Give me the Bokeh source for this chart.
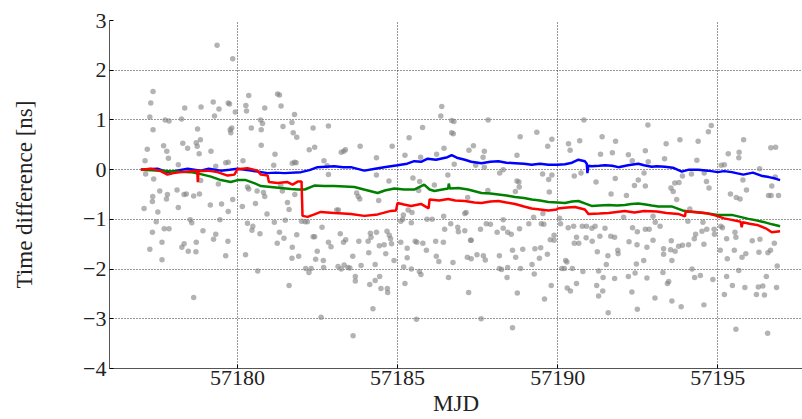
from bokeh.plotting import figure
from bokeh.models import Range1d, FixedTicker
from bokeh.embed import file_html
from bokeh.resources import INLINE

# ---------------- data ----------------
x_ticks = [57180, 57185, 57190, 57195]
y_ticks = [-4, -3, -2, -1, 0, 1, 2, 3]
y_tick_labels = {-4: "\u22124", -3: "\u22123", -2: "\u22122", -1: "\u22121",
                 0: "0", 1: "1", 2: "2", 3: "3"}
x_tick_labels = {57180: "57180", 57185: "57185", 57190: "57190", 57195: "57195"}

scatter_mjd = [
    57179.36, 57179.85, 57177.36, 57177.29, 57177.26, 57177.36, 57177.18, 57177.11, 57177.13, 57177.38,
    57177.35, 57177.34, 57177.08, 57177.51, 57177.46, 57177.34, 57177.71, 57177.86, 57177.64, 57177.26,
    57177.64, 57177.74, 57177.86, 57177.69, 57177.79, 57177.84, 57177.57, 57177.81, 57177.78, 57178.15,
    57178.11, 57178.15, 57178.33, 57178.40, 57178.63, 57178.29, 57178.44, 57178.35, 57178.25, 57178.86,
    57179.24, 57179.42, 57179.28, 57179.71, 57179.75, 57179.93, 57178.75, 57178.84, 57178.71, 57178.74,
    57178.80, 57179.17, 57179.77, 57179.82, 57179.79, 57178.52, 57178.57, 57178.92, 57178.33, 57178.26,
    57178.46, 57178.71, 57178.70, 57178.81, 57178.85, 57179.15, 57179.50, 57179.85, 57179.71, 57179.45,
    57179.32, 57179.25, 57179.70, 57179.63, 57178.63, 57179.63, 57179.71, 57179.32, 57179.40, 57180.17,
    57180.15, 57180.31, 57180.35, 57180.35, 57180.26, 57180.28, 57180.43, 57180.31, 57180.48, 57180.45,
    57180.70, 57180.25, 57180.63, 57180.56, 57180.61, 57180.74, 57180.72, 57180.78, 57180.74, 57180.85,
    57180.85, 57180.81, 57180.92, 57181.15, 57181.31, 57181.24, 57181.45, 57181.17, 57181.13, 57181.25,
    57181.31, 57181.36, 57181.42, 57181.49, 57181.56, 57181.61, 57181.70, 57181.74, 57181.85, 57181.78,
    57181.71, 57181.78, 57181.83, 57181.79, 57181.85, 57181.71, 57181.70, 57181.91, 57181.61, 57181.35,
    57181.40,
    57182.36, 57182.84, 57182.24, 57182.41, 57183.24, 57183.32, 57183.37, 57183.83, 57182.70, 57182.80,
    57182.84, 57184.34, 57184.34, 57184.83, 57184.73, 57184.41, 57183.72, 57183.77, 57183.82, 57183.10,
    57183.15, 57182.00, 57182.11, 57182.18, 57182.64, 57182.36, 57182.41, 57183.21, 57183.38, 57183.31,
    57182.84, 57182.92, 57183.79, 57184.15, 57184.34, 57184.08, 57184.17, 57184.67, 57184.74, 57184.78,
    57184.81, 57184.43, 57184.58, 57184.10, 57184.63, 57184.89, 57182.49, 57182.44, 57182.68, 57182.13,
    57182.30, 57182.23, 57182.69, 57183.14, 57183.24, 57183.33, 57183.45, 57183.51, 57183.60, 57183.86,
    57183.68, 57183.68, 57184.30, 57184.44, 57184.13, 57184.30, 57184.48, 57184.68, 57184.69, 57184.23,
    57182.61, 57183.61, 57185.59, 57185.10, 57185.16, 57185.18, 57185.43, 57185.33, 57185.45, 57185.10,
    57185.30, 57185.30, 57185.19, 57185.43, 57185.23, 57185.55, 57185.60, 57185.79, 57185.90, 57185.68,
    57185.73, 57185.92, 57186.08, 57186.19, 57186.43, 57186.21, 57186.29, 57186.47, 57186.66, 57186.88,
    57186.90, 57187.10, 57187.28, 57187.18, 57186.73, 57186.59, 57187.22, 57185.23, 57185.36, 57185.78,
    57185.72, 57185.48, 57185.69, 57185.66, 57186.15, 57186.22, 57186.38, 57186.35, 57186.69, 57186.69,
    57186.74, 57186.45, 57186.77, 57186.57, 57187.23, 57187.19, 57186.44, 57186.76,
    57187.83, 57190.82, 57187.37, 57187.71, 57187.67, 57187.44, 57187.71, 57188.83, 57189.35, 57189.82,
    57189.69, 57190.34, 57190.39, 57190.69, 57191.39, 57191.81, 57191.71, 57191.34, 57192.21, 57192.33,
    57188.73, 57188.30, 57188.19, 57188.73, 57188.79, 57188.80, 57188.68, 57187.82, 57189.53, 57189.82,
    57189.72, 57189.74, 57190.52, 57190.73, 57191.20, 57191.80, 57191.67, 57192.15, 57187.14, 57187.10,
    57188.30, 57187.77, 57187.90, 57187.59, 57188.11, 57188.30, 57188.44, 57188.55, 57188.81, 57189.10,
    57189.49, 57189.57, 57189.25, 57189.54, 57190.09, 57190.06, 57190.33, 57190.50, 57190.77, 57190.90,
    57191.07, 57191.17, 57191.48, 57191.66, 57191.78, 57191.32, 57191.08, 57190.89, 57190.59, 57190.52,
    57190.66, 57189.89, 57189.77, 57189.89, 57187.30, 57188.18, 57188.69, 57188.59, 57188.91, 57189.29,
    57189.47, 57189.43, 57189.68, 57187.30, 57187.48, 57187.68, 57187.74, 57188.18, 57188.25, 57188.44,
    57188.84, 57189.20, 57189.27, 57188.42, 57188.74, 57189.80, 57189.59, 57190.13, 57190.21, 57190.46,
    57190.25, 57190.29, 57190.79, 57190.59, 57190.30, 57190.40, 57191.24, 57191.28, 57191.52, 57191.57,
    57191.42, 57191.88, 57191.89, 57191.78, 57191.22, 57191.41, 57191.28, 57191.58, 57192.21, 57192.23,
    57192.06, 57187.61, 57188.59,
    57192.82, 57194.80, 57194.71, 57193.82, 57194.39, 57193.39, 57192.74, 57193.34, 57194.35, 57192.83,
    57195.81, 57195.33, 57195.67, 57195.66, 57195.21, 57195.11, 57196.66, 57196.81, 57196.31, 57192.70,
    57192.52, 57192.40, 57192.74, 57193.90, 57194.18, 57194.58, 57194.65, 57194.73, 57193.66, 57193.79,
    57193.54, 57193.61, 57193.72, 57195.40, 57195.58, 57195.70, 57195.79, 57195.90, 57196.69, 57196.80,
    57196.59, 57196.67, 57196.90, 57192.98, 57193.20, 57193.05, 57192.74, 57192.86, 57192.34, 57192.49,
    57194.07, 57194.13, 57194.54, 57194.51, 57194.66, 57194.89, 57194.90, 57194.31, 57194.27, 57194.57,
    57194.09, 57193.90, 57193.78, 57193.67, 57193.55, 57193.53, 57193.31, 57193.31, 57193.57, 57192.98,
    57192.79, 57192.48, 57192.69, 57192.46, 57192.42, 57192.79, 57192.32, 57195.10, 57195.15, 57195.54,
    57195.57, 57195.28, 57195.08, 57195.52, 57195.30, 57195.76, 57195.88, 57196.08, 57196.32, 57196.29,
    57196.57, 57196.65, 57196.77, 57196.86, 57195.66, 57195.28, 57195.46, 57195.85, 57196.21, 57196.27,
    57196.41, 57196.46, 57196.52, 57196.84, 57195.21, 57194.20, 57194.28, 57194.46, 57194.85, 57193.29,
    57193.43, 57193.47, 57193.04, 57193.57, 57193.86, 57194.57, 57192.49, 57195.57, 57196.56,
]
scatter_dt = [
    2.50, 2.23, 1.57, 1.34, 1.06, 0.80, 0.41, 0.18, -0.09, -0.19,
    -0.54, -0.64, -0.78, -0.85, -1.05, -1.26, -1.19, -1.19, -1.46, -1.60,
    -1.81, 1.00, 0.98, 0.48, 0.37, 0.23, -0.43, -0.50, -0.59, 0.10,
    -0.41, -0.76, -0.50, -0.49, -0.53, 0.53, 0.43, 1.24, 1.02, 1.26,
    1.36, 1.22, 1.08, 1.34, 1.32, 1.16, 0.82, 0.60, 0.54, 0.47,
    0.32, 0.37, 0.80, 0.84, 0.74, -1.01, -1.07, -1.23, -1.49, -1.56,
    -1.64, -1.46, -1.65, -0.49, -0.22, -0.71, -0.69, -0.60, -0.84, -1.01,
    -1.30, -1.40, -1.44, -1.73, -2.57, 0.14, 0.15, 0.07, -0.29, 0.18,
    -0.74, -0.35, -0.39, 1.49, 1.29, 1.18, 0.84, -1.08, -1.14, -1.22,
    -1.29, -1.71, -2.04, -0.68, -0.43, 0.49, 1.00, 0.93, 0.80, 1.24,
    -0.54, -0.46, -0.89, -1.06, -1.26, -1.48, -1.38, 0.31, 0.09, 1.52,
    1.50, 1.28, 0.87, -1.02, -0.66, -0.80, 0.95, 0.74, 0.65, 1.11,
    0.13, 0.15, 0.14, -0.50, -1.31, -1.56, -1.78, -1.74, -2.33, -0.32,
    -0.43,
    0.84, 0.88, 0.40, 0.45, 0.35, 0.37, 0.40, 0.47, 0.18, 0.08,
    -0.10, 0.24, -0.11, 0.47, -0.23, -0.62, -0.47, -0.54, -0.59, -0.81,
    -0.81, -1.04, -1.05, -1.05, -1.16, -1.35, -1.35, -1.29, -1.41, -1.46,
    -1.46, -1.55, -1.44, -1.28, -1.26, -1.44, -1.36, -1.24, -1.32, -1.39,
    -1.49, -1.53, -1.51, -1.67, -1.69, -1.83, -1.64, -1.80, -1.83, -1.99,
    -1.99, -2.07, -1.97, -1.95, -2.00, -1.92, -1.97, -1.98, -1.74, -1.93,
    -2.15, -2.24, -1.91, -2.15, -2.31, -2.23, -2.39, -2.39, -2.47, -2.80,
    -2.97, -3.34, -3.01, -1.04, -1.00, -0.91, -1.07, -0.81, -0.86, -1.46,
    -1.58, -1.77, -1.96, -2.00, -2.29, -1.44, -1.46, -1.48, -1.62, -2.05,
    -2.11, -1.00, -1.00, -1.44, -1.46, -1.74, -1.85, -1.20, -1.09, -1.16,
    -1.25, -1.23, -1.42, -1.76, -1.87, -2.17, -2.47, 0.29, 0.64, 0.85,
    0.25, -0.17, -0.24, -0.42, -0.31, 0.31, 1.27, 1.08, 0.99, 0.74,
    0.72, 0.43, 0.11, -0.11, 0.39, -0.56, -0.94, 0.97,
    1.00, 1.00, 0.48, 0.37, 0.25, 0.09, 0.05, 0.66, 0.75, 0.61,
    0.47, 0.52, 0.39, 0.58, 0.66, 0.57, 0.34, 0.31, 0.30, 0.18,
    0.29, 0.00, -0.07, -0.23, -0.25, -0.35, -0.44, -0.42, -0.09, -0.11,
    -0.20, -0.45, -0.13, -0.07, -0.25, -0.18, -0.49, -0.52, -0.86, -0.88,
    -1.01, -1.09, -1.10, -1.20, -1.26, -1.18, -1.26, -1.30, -1.19, -1.09,
    -1.09, -1.10, -0.96, -0.88, -1.09, -0.98, -1.17, -1.14, -1.14, -1.14,
    -1.18, -1.14, -1.18, -1.34, -1.36, -1.34, -1.44, -1.37, -1.36, -1.48,
    -1.48, -1.32, -1.41, -1.42, -1.42, -1.73, -1.76, -1.62, -1.60, -1.59,
    -1.57, -1.78, -1.70, -1.79, -1.71, -1.73, -1.82, -1.99, -2.01, -1.97,
    -1.99, -1.91, -2.10, -2.17, -2.48, -2.33, -2.60, -1.99, -1.99, -1.99,
    -1.83, -1.86, -2.05, -2.29, -2.38, -2.44, -1.65, -2.04, -1.91, -1.73,
    -2.17, -1.62, -1.69, -2.19, -2.33, -2.44, -2.54, -2.88, -2.15, -1.45,
    -0.96, -3.00, -3.18,
    0.90, 0.89, 0.76, 0.60, 0.57, 0.52, 0.38, 0.22, 0.19, 0.16,
    0.60, 0.32, 0.35, 0.24, 0.10, 0.09, 0.44, 0.45, 0.02, -0.07,
    -0.21, -0.32, -0.33, -0.13, -0.09, -0.07, -0.24, -0.37, -0.27, -0.26,
    -0.37, -0.44, -0.60, -0.49, -0.56, -0.59, -0.21, -0.41, -0.33, -0.15,
    -0.52, -0.52, -0.52, -0.94, -1.14, -1.06, -1.20, -1.20, -1.17, -1.25,
    -1.04, -0.79, -1.06, -1.24, -1.20, -1.20, -1.30, -1.30, -1.39, -1.50,
    -1.51, -1.52, -1.54, -1.64, -1.43, -1.61, -1.59, -1.70, -1.83, -1.42,
    -1.56, -1.51, -1.83, -1.90, -2.08, -2.18, -2.46, -1.14, -1.17, -1.26,
    -1.36, -1.39, -1.62, -1.62, -1.79, -1.76, -1.69, -1.43, -1.40, -1.66,
    -1.67, -1.62, -1.48, -1.94, -2.03, -2.15, -2.33, -2.37, -2.51, -2.36,
    -2.34, -2.52, -2.15, -2.37, -2.51, -2.00, -2.17, -2.13, -2.21, -2.07,
    -2.29, -2.25, -2.58, -2.64, -2.76, -2.72, -2.81, -3.21, -3.29,
]

blue_mjd = [57176.98, 57177.2, 57177.5, 57177.8, 57178.1, 57178.44, 57178.85, 57179.1, 57179.48, 57179.75,
            57180.0, 57180.42, 57180.94, 57181.2, 57181.46, 57181.98, 57182.25, 57182.5, 57183.02, 57183.3,
            57183.54, 57183.96, 57184.3, 57184.58, 57185.0, 57185.3, 57185.52, 57185.75, 57185.94, 57186.2,
            57186.56, 57186.69, 57186.85, 57187.1, 57187.3, 57187.62, 57187.9, 57188.15, 57188.4, 57188.67,
            57188.95, 57189.19, 57189.45, 57189.71, 57190.0, 57190.23, 57190.45, 57190.65, 57190.85, 57190.91,
            57190.93, 57190.96, 57191.06, 57191.3, 57191.48, 57191.7, 57191.9, 57192.2, 57192.52, 57192.7,
            57192.94, 57193.1, 57193.35, 57193.6, 57193.88, 57194.1, 57194.4, 57194.7, 57195.0, 57195.2,
            57195.44, 57195.8, 57196.1, 57196.4, 57196.6, 57196.8, 57196.95]
blue_dt = [0.00, 0.01, 0.02, -0.05, -0.02, 0.02, -0.02, 0.02, -0.02, 0.00,
           0.02, -0.02, -0.07, -0.06, -0.07, -0.05, -0.01, 0.05, 0.07, 0.05,
           0.05, -0.02, 0.02, 0.05, 0.09, 0.12, 0.17, 0.16, 0.22, 0.20,
           0.25, 0.29, 0.24, 0.20, 0.16, 0.13, 0.16, 0.17, 0.14, 0.13,
           0.12, 0.10, 0.12, 0.10, 0.10, 0.11, 0.14, 0.20, 0.17, 0.12,
           -0.07, 0.08, 0.07, 0.08, 0.09, 0.08, 0.05, 0.09, 0.12, 0.09,
           0.06, 0.07, 0.06, 0.04, -0.04, 0.00, 0.00, -0.02, -0.05, -0.03,
           -0.05, -0.10, -0.06, -0.13, -0.15, -0.18, -0.21]

green_mjd = [57176.98, 57177.3, 57177.6, 57177.9, 57178.2, 57178.54, 57178.85, 57179.17, 57179.48, 57179.79,
             57180.0, 57180.26, 57180.52, 57180.73, 57181.04, 57181.35, 57181.67, 57181.88, 57182.1, 57182.4,
             57182.7, 57183.02, 57183.35, 57183.65, 57183.95, 57184.38, 57184.6, 57184.9, 57185.2, 57185.52,
             57185.83, 57186.0, 57186.15, 57186.4, 57186.58, 57186.6, 57186.63, 57186.9, 57187.2, 57187.62,
             57187.9, 57188.15, 57188.4, 57188.67, 57188.95, 57189.19, 57189.45, 57189.71, 57190.0, 57190.23,
             57190.45, 57190.65, 57190.85, 57191.06, 57191.3, 57191.6, 57191.85, 57192.1, 57192.3, 57192.52,
             57192.75, 57192.94, 57193.15, 57193.56, 57193.9, 57194.1, 57194.4, 57194.7, 57195.0, 57195.2,
             57195.44, 57195.7, 57195.96, 57196.2, 57196.48, 57196.7, 57196.95]
green_dt = [0.00, -0.01, -0.02, -0.03, -0.04, -0.05, -0.09, -0.14, -0.21, -0.25,
            -0.21, -0.21, -0.27, -0.33, -0.35, -0.37, -0.39, -0.40, -0.40, -0.32,
            -0.33, -0.33, -0.34, -0.35, -0.40, -0.47, -0.42, -0.38, -0.40, -0.40,
            -0.30, -0.40, -0.43, -0.40, -0.38, -0.28, -0.38, -0.37, -0.40, -0.47,
            -0.48, -0.50, -0.52, -0.55, -0.57, -0.60, -0.62, -0.65, -0.66, -0.67,
            -0.64, -0.63, -0.68, -0.73, -0.72, -0.71, -0.72, -0.71, -0.69, -0.68,
            -0.70, -0.72, -0.74, -0.74, -0.82, -0.84, -0.86, -0.88, -0.91, -0.91,
            -0.91, -0.95, -0.99, -1.02, -1.06, -1.10, -1.14]

red_mjd = [57176.98, 57177.29, 57177.6, 57177.81, 57178.0, 57178.23, 57178.54, 57178.74, 57178.76, 57178.78,
           57179.06, 57179.375, 57179.69, 57179.9, 57180.0, 57180.31, 57180.62, 57180.73, 57180.94, 57180.98,
           57181.25, 57181.56, 57181.72, 57181.88, 57182.0, 57182.03, 57182.19, 57182.4, 57182.6, 57183.02,
           57183.3, 57183.54, 57183.96, 57184.38, 57184.79, 57184.95, 57185.0, 57185.2, 57185.42, 57185.73,
           57185.97, 57186.0, 57186.3, 57186.58, 57186.8, 57187.1, 57187.4, 57187.62, 57187.9, 57188.15,
           57188.4, 57188.67, 57188.95, 57189.19, 57189.45, 57189.71, 57189.98, 57190.0, 57190.3, 57190.54,
           57190.85, 57190.96, 57191.3, 57191.6, 57191.85, 57192.1, 57192.4, 57192.7, 57193.1, 57193.4,
           57193.77, 57193.98, 57194.0, 57194.3, 57194.6, 57194.92, 57195.2, 57195.44, 57195.72, 57195.75,
           57195.78, 57196.0, 57196.27, 57196.5, 57196.69, 57196.95]
red_dt = [0.00, 0.02, -0.03, -0.10, -0.07, -0.05, -0.03, -0.02, -0.25, -0.03,
          -0.02, -0.05, -0.12, -0.10, 0.01, 0.03, -0.02, -0.10, -0.12, -0.25,
          -0.27, -0.25, -0.30, -0.24, -0.24, -0.93, -0.95, -0.90, -0.85, -0.87,
          -0.88, -0.89, -0.93, -0.90, -0.83, -0.82, -0.67, -0.70, -0.73, -0.69,
          -0.78, -0.60, -0.62, -0.59, -0.62, -0.63, -0.66, -0.67, -0.64, -0.63,
          -0.66, -0.69, -0.74, -0.78, -0.80, -0.82, -0.80, -0.78, -0.76, -0.75,
          -0.80, -0.89, -0.88, -0.87, -0.85, -0.83, -0.86, -0.83, -0.84, -0.87,
          -0.89, -0.94, -0.84, -0.85, -0.87, -0.92, -0.98, -1.01, -1.05, -1.16,
          -1.06, -1.09, -1.12, -1.18, -1.26, -1.24]

x_label = "MJD"
y_label = "Time difference [ns]"

# ---------------- figure ----------------
FONT = "'Liberation Serif', 'Times New Roman', serif"

p = figure(width=802, height=419, output_backend="svg", toolbar_location=None,
           x_range=Range1d(57176.0, 57197.65), y_range=Range1d(-4, 3),
           min_border_left=109, min_border_right=0, min_border_top=20, min_border_bottom=51)
p.outline_line_color = None
p.background_fill_color = "white"
p.border_fill_color = "white"

n = min(len(scatter_mjd), len(scatter_dt))
p.scatter(scatter_mjd[:n], scatter_dt[:n], size=5.5, fill_color="#808080", fill_alpha=0.6,
          line_color=None)

p.line(blue_mjd, blue_dt, line_color="#0000ff", line_width=2.5)
p.line(green_mjd, green_dt, line_color="#008000", line_width=2.5)
p.line(red_mjd, red_dt, line_color="#ff0000", line_width=2.5)

p.xaxis.ticker = FixedTicker(ticks=x_ticks)
p.yaxis.ticker = FixedTicker(ticks=y_ticks)
p.xaxis.major_label_overrides = x_tick_labels
p.yaxis.major_label_overrides = y_tick_labels
p.xgrid.ticker = FixedTicker(ticks=x_ticks)
p.ygrid.ticker = FixedTicker(ticks=y_ticks)

for g in (p.xgrid, p.ygrid):
    g.grid_line_color = "black"
    g.grid_line_alpha = 0.8
    g.grid_line_dash = "1 2"
    g.grid_line_width = 1

for ax in (p.xaxis, p.yaxis):
    ax.axis_line_color = "#555555"
    ax.axis_line_width = 1
    ax.major_tick_in = 4
    ax.major_tick_out = 0
    ax.major_tick_line_color = "black"
    ax.minor_tick_line_color = None
    ax.major_label_text_font = FONT
    ax.major_label_text_font_size = "22px"
    ax.major_label_text_color = "#222222"
    ax.axis_label_text_font = FONT
    ax.axis_label_text_font_size = "23px"
    ax.axis_label_text_font_style = "normal"
    ax.axis_label_text_color = "#222222"

p.xaxis.axis_label = x_label
p.yaxis.axis_label = y_label
p.xaxis.major_label_standoff = 2
p.yaxis.major_label_standoff = 3
p.xaxis.axis_label_standoff = 3
p.yaxis.axis_label_standoff = 43

open("out.html", "w").write(file_html(p, INLINE))
